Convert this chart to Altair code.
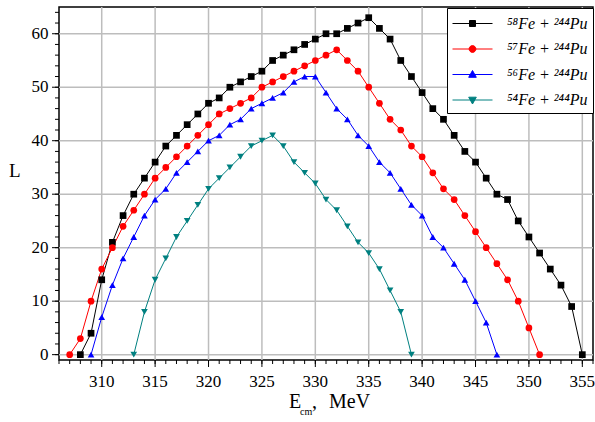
import altair as alt
import pandas as pd

# ---- data ----
labels = ["⁵⁸Fe + ²⁴⁴Pu", "⁵⁷Fe + ²⁴⁴Pu", "⁵⁶Fe + ²⁴⁴Pu", "⁵⁴Fe + ²⁴⁴Pu"]
colors = ["#000000", "#ff0000", "#0000ff", "#008080"]
shapes = ["square", "circle", "triangle-up", "triangle-down"]

E58 = list(range(308, 356))
L58 = [0, 4, 14, 21, 26, 30, 33, 36, 39, 41, 43, 45, 47, 48, 50, 51, 52, 53, 55, 56,
       57, 58, 59, 60, 60, 61, 62, 63, 61, 59, 55, 52, 49, 46, 44, 41, 38, 36, 33, 30,
       29, 25, 22, 19, 16, 13, 9, 0]

E57 = list(range(307, 352))
L57 = [0, 3, 10, 16, 20, 24, 27, 30, 33, 35, 37, 39, 41, 43, 45, 46, 47, 48, 50, 51,
       52, 53, 54, 55, 56, 57, 55, 53, 50, 47, 44, 42, 39, 37, 34, 31, 29, 26, 23, 20,
       17, 14, 10, 5, 0]

E56 = list(range(309, 348))
L56 = [0, 7, 13, 18, 22, 26, 29, 31, 34, 36, 38, 40, 41, 43, 44, 46, 47, 48, 49, 51,
       52, 52, 49, 46, 44, 41, 39, 36, 34, 31, 28, 26, 22, 20, 17, 14, 10, 6, 0]

E54 = list(range(313, 340))
L54 = [0, 8, 14, 18, 22, 25, 28, 31, 33, 35, 37, 39, 40, 41, 39, 36, 34, 32, 29, 27,
       24, 21, 19, 16, 12, 8, 0]

x_major = list(range(310, 356, 5))
x_minor = list(range(306, 357))
y_major = list(range(0, 61, 10))
y_minor = list(range(0, 65, 2))

rows = []
for lab, Es, Ls in zip(labels, [E58, E57, E56, E54], [L58, L57, L56, L54]):
    for e, l in zip(Es, Ls):
        rows.append({"E": e, "L": l, "series": lab})
df = pd.DataFrame(rows)

FONT = "Liberation Serif"
W, H = 534, 353

# legend symbols: short line with the marker in the middle (unit = 10 px)
legend_paths = [
    "M-2,0H2M-0.3,-0.3H0.3V0.3H-0.3Z",
    "M-2,0H2M-0.34,0A0.34,0.34,0,1,0,0.34,0A0.34,0.34,0,1,0,-0.34,0Z",
    "M-2,0H2M0,-0.4L0.38,0.28L-0.38,0.28Z",
    "M-2,0H2M0,0.4L0.38,-0.28L-0.38,-0.28Z",
]

legend_def = alt.Legend(
    title=None, orient="none", legendX=388, legendY=1,
    strokeColor="black", fillColor="white", padding=5,
    labelFont=FONT, labelFontSize=16, labelFontStyle="italic", labelColor="black",
    symbolSize=400, symbolStrokeWidth=1, symbolOffset=10, labelOffset=24, rowPadding=6.5,
    symbolOpacity=1,
)

xscale = alt.Scale(domain=[306, 356], nice=False, zero=False)
yscale = alt.Scale(domain=[-1, 65], nice=False, zero=False)
cscale = alt.Scale(domain=labels, range=colors)
sscale = alt.Scale(domain=labels, range=shapes)
pscale = alt.Scale(domain=labels, range=legend_paths)

X = alt.X("E:Q", scale=xscale, axis=None)
Y = alt.Y("L:Q", scale=yscale, axis=None)

GRID = "#bdbdbd"

# grid lines: separate data columns so they do not share datasets with tick layers
xg = alt.Chart(pd.DataFrame({"E": x_major, "g": ["v"] * len(x_major)})).mark_rule(
    color=GRID, strokeWidth=1.5, opacity=1).encode(x=X, y=alt.value(0), y2=alt.value(H))
yg = alt.Chart(pd.DataFrame({"L": y_major, "g": ["h"] * len(y_major)})).mark_rule(
    color=GRID, strokeWidth=1.5, opacity=1).encode(y=Y, x=alt.value(0), x2=alt.value(W))

# ticks and tick labels (positioned through the shared scales)
xM = alt.Chart(pd.DataFrame({"E": x_major})).mark_rule(color="black", strokeWidth=1).encode(
    x=X, y=alt.value(H), y2=alt.value(H + 7))
yM = alt.Chart(pd.DataFrame({"L": y_major})).mark_rule(color="black", strokeWidth=1).encode(
    y=Y, x=alt.value(0), x2=alt.value(-7))
xm = alt.Chart(pd.DataFrame({"E": x_minor})).mark_rule(color="black", strokeWidth=1).encode(
    x=X, y=alt.value(H), y2=alt.value(H + 4))
ym = alt.Chart(pd.DataFrame({"L": y_minor})).mark_rule(color="black", strokeWidth=1).encode(
    y=Y, x=alt.value(0), x2=alt.value(-4))
xl = alt.Chart(pd.DataFrame({"E": x_major, "t": [str(v) for v in x_major]})).mark_text(
    font=FONT, fontSize=17, color="black", align="center", baseline="alphabetic").encode(
    x=X, y=alt.value(380), text="t:N")
yl = alt.Chart(pd.DataFrame({"L": y_major, "t": [str(v) for v in y_major]})).mark_text(
    font=FONT, fontSize=17, color="black", align="right", baseline="middle").encode(
    y=Y, x=alt.value(-10.5), text="t:N")

base = alt.Chart(df)

lines = base.mark_line(strokeWidth=1).encode(
    x=X, y=Y,
    color=alt.Color("series:N", scale=cscale, legend=None),
    detail="series:N",
)

points = base.mark_point(filled=True, size=45, opacity=1).encode(
    x=X, y=Y,
    color=alt.Color("series:N", scale=cscale, legend=None),
    shape=alt.Shape("series:N", scale=sscale, legend=None),
)

# legend only (no marks drawn): line + marker symbols
leg = base.transform_filter("false").mark_point(filled=True, opacity=1).encode(
    x=X, y=Y,
    fill=alt.Fill("series:N", scale=cscale, legend=legend_def),
    stroke=alt.Stroke("series:N", scale=cscale, legend=legend_def),
    shape=alt.Shape("series:N", scale=pscale, legend=legend_def),
)

one = pd.DataFrame({"k": [0]})


def txt(s, x, y, size):
    return alt.Chart(one).mark_text(text=s, font=FONT, fontSize=size, color="black",
                                    align="left", baseline="alphabetic").encode(
        x=alt.value(x), y=alt.value(y))


titles = [
    txt("L", -50, 170, 19),
    txt("E", 230, 401, 20),
    txt("cm", 241, 408, 10),
    txt(",", 253, 401, 20),
    txt("MeV", 270, 401, 20),
]

chart = alt.layer(xm, ym, xM, yM, xl, yl, xg, yg, lines, points, leg, *titles).resolve_scale(
    shape="independent", fill="independent", stroke="independent"
).properties(
    width=W, height=H,
    autosize=alt.AutoSizeParams(type="none"),
    padding={"left": 59, "top": 7, "right": 2, "bottom": 62},
    background="white",
).configure_view(stroke="black", strokeWidth=1.5)

chart.save("out.html", embed_options={"renderer": "svg", "actions": False})
